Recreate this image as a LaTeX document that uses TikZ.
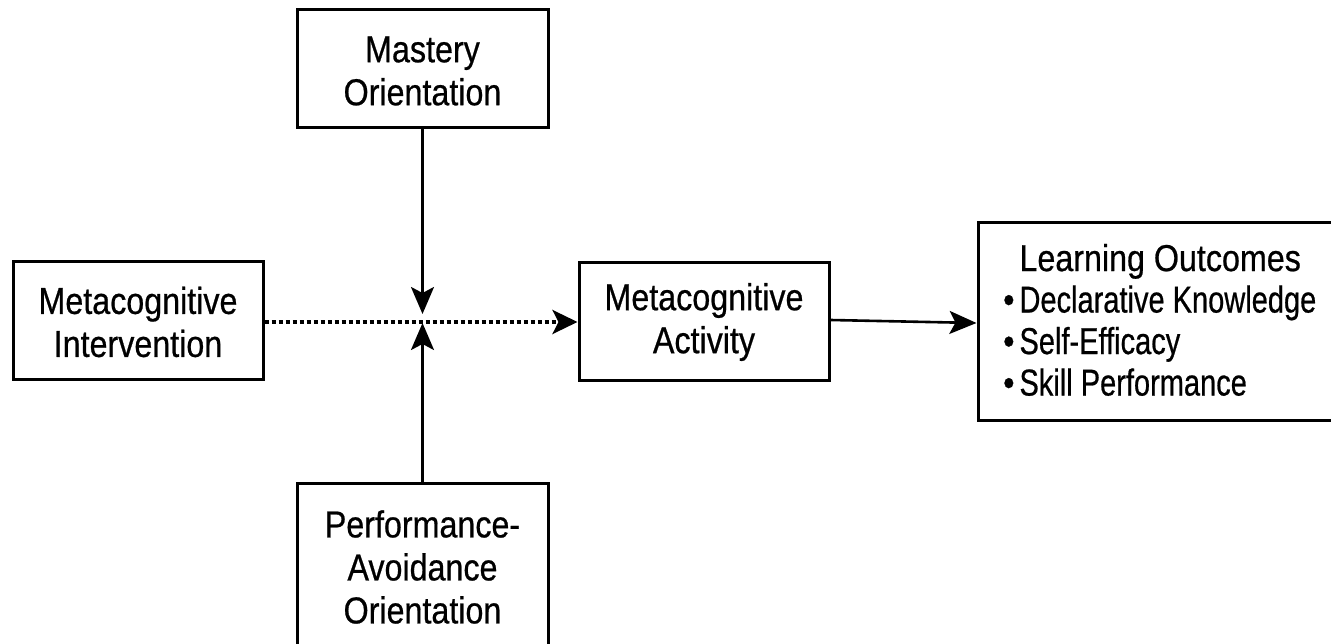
\documentclass[tikz,border=0pt]{standalone}
\usepackage{fontspec}
\setmainfont{Liberation Sans}[FakeStretch=0.86, FakeBold=0.6]
\usetikzlibrary{arrows.meta}
\newcommand{\itemline}[1]{\scalebox{0.9}[1]{#1}}
\begin{document}
\begin{tikzpicture}[x=1pt,y=-1pt,
  box/.style={draw=black, line width=3pt, fill=white, inner sep=0pt},
  lbl/.style={align=center, font=\fontsize{37.5}{43}\selectfont, inner sep=0pt},
  link/.style={line width=2.6pt, -{Stealth[length=27pt,width=23pt,inset=6pt]}},
  dotlink/.style={line width=3.5pt, dash pattern=on 4pt off 3pt,
    -{Stealth[length=25pt,width=24pt,inset=6pt]}}]
\useasboundingbox (0,0) rectangle (1331,644);

% boxes
\node[box, minimum width=251pt, minimum height=118pt] (mastery) at (422.5,69) {};
\node[lbl] (masterytext) at (422.5,71) {Mastery\\Orientation};

\node[box, minimum width=250pt, minimum height=117pt] (interv) at (138,320.5) {};
\node[lbl] (intervtext) at (138,322) {Metacognitive\\Intervention};

\node[box, minimum width=250pt, minimum height=117pt] (activity) at (704,321.5) {};
\node[lbl] (activitytext) at (704,322) {Metacognitive\\Activity};

\node[box, minimum width=367pt, minimum height=197pt] (outcomes) at (1161.5,321.5) {};
\node[lbl, align=left, font=\fontsize{37.5}{41.5}\selectfont, anchor=west] (outcomestext) at (1003,325)
  {\begin{tabular}{@{}l@{}l@{}}
   & Learning Outcomes\\
   \textbullet\hspace{5pt} & \itemline{Declarative Knowledge}\\
   \textbullet\hspace{5pt} & \itemline{Self-Efficacy}\\
   \textbullet\hspace{5pt} & \itemline{Skill Performance}
   \end{tabular}};

\node[box, minimum width=251pt, minimum height=177pt] (perf) at (422.5,571.5) {};
\node[lbl] (perftext) at (422.5,567) {Performance-\\Avoidance\\Orientation};

% meeting point of the moderating paths
\coordinate (meet) at (422.5,322);
\coordinate (topend) at (422.5,314);
\coordinate (botend) at (422.5,323);

% connectors
\draw[dotlink] (interv.east |- meet) -- (activity.west |- meet);
\draw[link] (mastery.south -| meet) -- (topend);
\draw[link] (perf.north -| meet) -- (botend);
\draw[link] ([yshift=1.5pt]activity.east) -- ([yshift=-1.5pt]outcomes.west);
\end{tikzpicture}
\end{document}
